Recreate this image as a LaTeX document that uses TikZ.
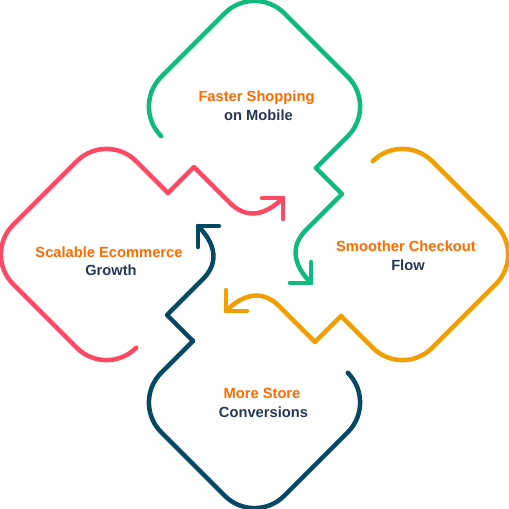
\documentclass[tikz,border=0pt]{standalone}
\usepackage{fontspec}
\setmainfont{Liberation Sans}
\definecolor{gcol}{RGB}{16,185,125}
\definecolor{ocol}{RGB}{240,158,0}
\definecolor{ncol}{RGB}{5,72,99}
\definecolor{rcol}{RGB}{255,72,100}
\definecolor{ttlc}{RGB}{255,106,0}
\definecolor{subc}{RGB}{38,55,86}
\begin{document}
\begin{tikzpicture}[x=1pt,y=-1pt,
  loopline/.style={line width=4.5pt, line cap=round, line join=round},
  ttl/.style={font=\bfseries\fontsize{14.7}{18}\selectfont, text=ttlc, anchor=base, inner sep=0pt},
  sub/.style={font=\bfseries\fontsize{14.7}{18}\selectfont, text=subc, anchor=base, inner sep=0pt}]
\useasboundingbox[fill=white] (0,0) rectangle (509,509);

% green (top)
\draw[loopline, gcol, rounded corners=42pt] (161.2,136.2) -- (131.5,106.5) -- (254.5,-16.5) -- (377.5,106.5) -- (316,168);
\draw[loopline, gcol] (316,168) -- (342,194) -- (306,230) .. controls (290,246) and (293,265) .. (311,283);
\draw[loopline, gcol] (311,262) -- (311,283) -- (290,283);

% orange (right)
\draw[loopline, ocol, rounded corners=42pt] (372.8,161.2) -- (402.5,131.5) -- (525.5,254.5) -- (402.5,377.5) -- (341,316);
\draw[loopline, ocol] (341,316) -- (315,342) -- (279,306) .. controls (263,290) and (244,293) .. (226,311);
\draw[loopline, ocol] (247,311) -- (226,311) -- (226,290);

% navy (bottom)
\draw[loopline, ncol, rounded corners=42pt] (347.8,372.8) -- (377.5,402.5) -- (254.5,525.5) -- (131.5,402.5) -- (193,341);
\draw[loopline, ncol] (193,341) -- (167,315) -- (203,279) .. controls (219,263) and (216,244) .. (198,226);
\draw[loopline, ncol] (198,247) -- (198,226) -- (219,226);

% red (left)
\draw[loopline, rcol, rounded corners=42pt] (136.2,347.8) -- (106.5,377.5) -- (-16.5,254.5) -- (106.5,131.5) -- (168,193);
\draw[loopline, rcol] (168,193) -- (194,167) -- (230,203) .. controls (246,219) and (265,216) .. (283,198);
\draw[loopline, rcol] (262,198) -- (283,198) -- (283,219);

\node[ttl] (g1) at (256.5,101) {Faster Shopping};
\node[sub] (g2) at (258.5,120) {on Mobile};
\node[ttl] (o1) at (406,251) {Smoother Checkout};
\node[sub] (o2) at (408,270) {Flow};
\node[ttl] (r1) at (109,257) {Scalable Ecommerce};
\node[sub] (r2) at (111,275.5) {Growth};
\node[ttl] (n1) at (262,398) {More Store};
\node[sub] (n2) at (263.5,417) {Conversions};
\end{tikzpicture}
\end{document}
